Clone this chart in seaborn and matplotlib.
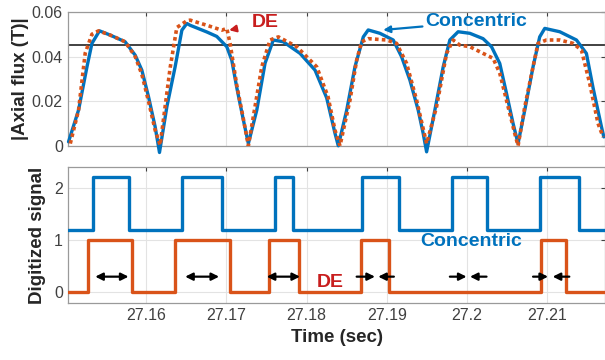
import matplotlib
matplotlib.use("Agg")
import numpy as np
import pandas as pd
import matplotlib.pyplot as plt
import seaborn as sns

BLUE = "#0072BD"
ORANGE = "#D95319"
RED = "#C81E1E"
XLIM = (27.1503, 27.2172)
THRESHOLD = 0.045

# |Axial flux| traces (sec, T)
conc_t = [27.15032, 27.15157, 27.15262, 27.15324, 27.15418, 27.15552, 27.15738,
          27.15863, 27.15946, 27.16029, 27.16112, 27.16166, 27.16258, 27.16361,
          27.16445, 27.16507, 27.16548, 27.16756, 27.16880, 27.17005, 27.17067,
          27.17130, 27.17212, 27.17274, 27.17379, 27.17482, 27.17585, 27.17710,
          27.17918, 27.18105, 27.18250, 27.18354, 27.18395, 27.18500, 27.18603,
          27.18707, 27.18768, 27.18914, 27.19080, 27.19184, 27.19288, 27.19391,
          27.19453, 27.19496, 27.19599, 27.19703, 27.19786, 27.19889, 27.20035,
          27.20200, 27.20305, 27.20408, 27.20492, 27.20574, 27.20636, 27.20720,
          27.20823, 27.20906, 27.20969, 27.21156, 27.21364, 27.21488, 27.21571,
          27.21676, 27.21705]
conc_flux = [0.0018, 0.0160, 0.0354, 0.0459, 0.0515, 0.0496, 0.0466,
             0.0406, 0.0339, 0.0220, 0.0085, -0.0030, 0.0175, 0.0354,
             0.0518, 0.0548, 0.0540, 0.0510, 0.0490, 0.0444, 0.0384,
             0.0260, 0.0115, 0.0010, 0.0160, 0.0370, 0.0474, 0.0466,
             0.0414, 0.0339, 0.0215, 0.0056, 0.0000, 0.0160, 0.0354,
             0.0488, 0.0519, 0.0504, 0.0474, 0.0399, 0.0294, 0.0160,
             0.0056, -0.0027, 0.0160, 0.0354, 0.0474, 0.0511, 0.0504,
             0.0480, 0.0444, 0.0369, 0.0235, 0.0100, 0.0010, 0.0160,
             0.0354, 0.0488, 0.0526, 0.0511, 0.0474, 0.0414, 0.0260,
             0.0085, 0.0040]

de_t = [27.15054, 27.15157, 27.15240, 27.15324, 27.15406, 27.15552, 27.15738,
        27.15863, 27.15946, 27.16029, 27.16112, 27.16174, 27.16299, 27.16382,
        27.16507, 27.16548, 27.16756, 27.16943, 27.17005, 27.17046, 27.17130,
        27.17212, 27.17274, 27.17441, 27.17544, 27.17648, 27.17877, 27.18126,
        27.18267, 27.18354, 27.18416, 27.18541, 27.18624, 27.18687, 27.18768,
        27.18998, 27.19122, 27.19247, 27.19371, 27.19496, 27.19620, 27.19745,
        27.19827, 27.19910, 27.20035, 27.20200, 27.20325, 27.20408, 27.20512,
        27.20595, 27.20636, 27.20720, 27.20823, 27.20885, 27.20990, 27.21156,
        27.21322, 27.21426, 27.21529, 27.21633, 27.21696]
de_flux = [0.0010, 0.0160, 0.0415, 0.0500, 0.0515, 0.0496, 0.0466,
           0.0400, 0.0320, 0.0200, 0.0070, 0.0003, 0.0350, 0.0530,
           0.0560, 0.0563, 0.0540, 0.0518, 0.0526, 0.0459, 0.0270,
           0.0120, 0.0000, 0.0354, 0.0474, 0.0488, 0.0444, 0.0354,
           0.0220, 0.0070, 0.0000, 0.0205, 0.0384, 0.0466, 0.0480,
           0.0474, 0.0459, 0.0369, 0.0205, 0.0010, 0.0175, 0.0414,
           0.0474, 0.0451, 0.0444, 0.0414, 0.0392, 0.0325, 0.0175,
           0.0055, 0.0000, 0.0175, 0.0354, 0.0459, 0.0474, 0.0474,
           0.0459, 0.0429, 0.0280, 0.0100, 0.0040]

# digitized signals: switching times (rise, fall, rise, fall, ...)
conc_edges = [27.15331, 27.15788, 27.16445, 27.16950, 27.17606, 27.17834,
              27.18686, 27.19154, 27.19807, 27.20243, 27.20915, 27.21396]
de_edges = [27.15281, 27.15822, 27.16361, 27.17046, 27.17535, 27.17909,
            27.18674, 27.19030, 27.20927, 27.21238]
conc_levels = (1.2, 2.2)
de_levels = (0.0, 1.0)

# pulse width markers in the lower panel (y = 0.3)
wide_marks = [(27.15365, 27.15780), (27.16486, 27.16909), (27.17503, 27.17918)]
narrow_marks = [(27.18624, 27.18852, 27.19088, 27.18893),
                (27.19786, 27.19994, 27.20243, 27.20037),
                (27.20823, 27.21010, 27.21275, 27.21068)]

xticks = [27.16, 27.17, 27.18, 27.19, 27.20, 27.21]
xtick_labels = ["27.16", "27.17", "27.18", "27.19", "27.2", "27.21"]


def to_steps(edges, levels):
    low, high = levels
    t = [XLIM[0]] + list(edges) + [XLIM[1]]
    lv = [low] + [high if i % 2 == 0 else low for i in range(len(edges))] + [low]
    return pd.DataFrame({"t": t, "level": lv})


sns.set_style("whitegrid", {"grid.color": "#e3e3e3", "axes.edgecolor": "#9a9a9a"})
plt.rcParams["font.family"] = ["Liberation Sans", "DejaVu Sans"]

fig = plt.figure(figsize=(6.05, 3.6), dpi=100)
ax1 = fig.add_axes([0.113, 0.595, 0.887, 0.372])
ax2 = fig.add_axes([0.113, 0.159, 0.887, 0.377])

# --- top panel: analog flux ---
sns.lineplot(x=conc_t, y=conc_flux, ax=ax1, color=BLUE, lw=2.4,
             estimator=None, sort=False, clip_on=False, zorder=3)
sns.lineplot(x=de_t, y=de_flux, ax=ax1, color=ORANGE, lw=2.6,
             estimator=None, sort=False, zorder=4, dashes=False)
ax1.lines[-1].set_linestyle((0, (1.0, 0.9)))
ax1.axhline(THRESHOLD, color="#333333", lw=1.3, zorder=2)

ax1.set_xlim(*XLIM)
ax1.set_ylim(0, 0.06)
ax1.set_yticks([0, 0.02, 0.04, 0.06])
ax1.set_yticklabels(["0", "0.02", "0.04", "0.06"])
ax1.set_xticks(xticks)
ax1.set_xticklabels([])
ax1.set_ylabel("|Axial flux (T)|", fontsize=13.5, fontweight="bold", labelpad=2)

ax1.annotate("DE", xy=(27.17034, 0.0518), xytext=(27.1749, 0.0552),
             color=RED, fontsize=14, fontweight="bold", ha="center", va="center",
             arrowprops=dict(arrowstyle="-|>", color=RED, lw=1.6,
                             shrinkA=9, shrinkB=0, mutation_scale=10))
ax1.annotate("Concentric", xy=(27.18955, 0.0519), xytext=(27.2012, 0.0556),
             color=BLUE, fontsize=14, fontweight="bold", ha="center", va="center",
             arrowprops=dict(arrowstyle="-|>", color=BLUE, lw=1.6,
                             shrinkA=38, shrinkB=0, mutation_scale=10))

# --- bottom panel: digitized signals ---
conc_df = to_steps(conc_edges, conc_levels)
de_df = to_steps(de_edges, de_levels)
sns.lineplot(data=conc_df, x="t", y="level", ax=ax2, color=BLUE, lw=2.4,
             estimator=None, drawstyle="steps-post", zorder=3)
sns.lineplot(data=de_df, x="t", y="level", ax=ax2, color=ORANGE, lw=2.4,
             estimator=None, drawstyle="steps-post", zorder=3)

arrow_kw = dict(color="black", lw=1.6, mutation_scale=11, shrinkA=0, shrinkB=0)
for a, b in wide_marks:
    ax2.annotate("", xy=(b, 0.3), xytext=(a, 0.3),
                 arrowprops=dict(arrowstyle="<|-|>", **arrow_kw))
for a0, a1, b0, b1 in narrow_marks:
    ax2.annotate("", xy=(a1, 0.3), xytext=(a0, 0.3),
                 arrowprops=dict(arrowstyle="-|>", **arrow_kw))
    ax2.annotate("", xy=(b1, 0.3), xytext=(b0, 0.3),
                 arrowprops=dict(arrowstyle="-|>", **arrow_kw))

ax2.text(27.1829, 0.19, "DE", color=RED, fontsize=14, fontweight="bold",
         ha="center", va="center")
ax2.text(27.2005, 0.97, "Concentric", color=BLUE, fontsize=14, fontweight="bold",
         ha="center", va="center")

ax2.set_xlim(*XLIM)
ax2.set_ylim(-0.2, 2.4)
ax2.set_yticks([0, 1, 2])
ax2.set_xticks(xticks)
ax2.set_xticklabels(xtick_labels)
ax2.set_ylabel("Digitized signal", fontsize=13.5, fontweight="bold", labelpad=6)
ax2.set_xlabel("Time (sec)", fontsize=13.5, fontweight="bold", labelpad=4)

for ax in (ax1, ax2):
    ax.tick_params(labelsize=11.5, colors="#404040", direction="in", length=3,
                   top=True, right=True, pad=4)
    ax.tick_params(axis="both", labelcolor="#404040")
    ax.grid(True, color="#e3e3e3", lw=0.8)
    for s in ax.spines.values():
        s.set_color("#9a9a9a")
        s.set_linewidth(0.9)
    ax.yaxis.label.set_color("#262626")
    ax.xaxis.label.set_color("#262626")

fig.savefig("out.png", dpi=100)
